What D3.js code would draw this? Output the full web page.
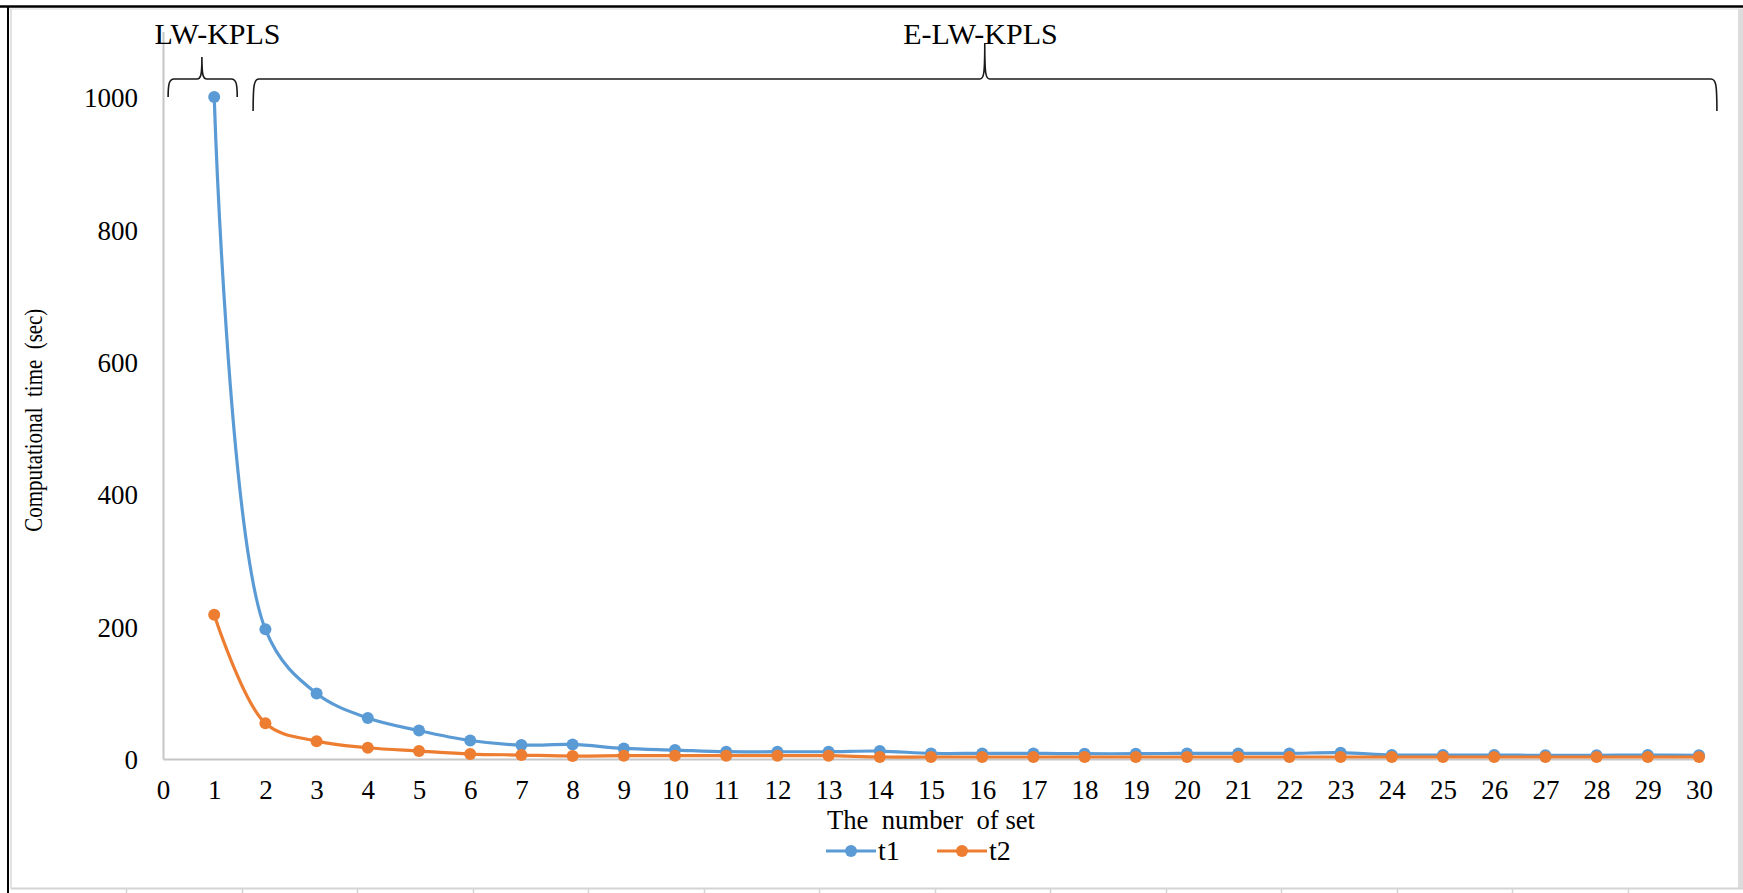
<!DOCTYPE html>
<html>
<head>
<meta charset="utf-8">
<script src="https://cdn.jsdelivr.net/npm/d3@7"></script>
<style>
  html, body { margin: 0; padding: 0; background: #fff; }
  svg { display: block; }
  text { font-family: "Liberation Serif", "Times New Roman", serif; fill: #000; }
</style>
</head>
<body>
<svg id="chart" width="1743" height="893"></svg>
<script>
// Number of sets (x) and computational time in seconds (y)
const sets = [1, 2, 3, 4, 5, 6, 7, 8, 9, 10, 11, 12, 13, 14, 15,
              16, 17, 18, 19, 20, 21, 22, 23, 24, 25, 26, 27, 28, 29, 30];
const t1 = [1001, 196, 99, 62, 43, 28, 21, 22, 16, 13.5, 11, 11, 11, 12, 8.5,
            8.5, 8.5, 8, 8, 8.5, 8.5, 8.5, 9.5, 6, 6, 6, 5.5, 5.5, 6, 5.5];
const t2 = [218, 54, 27, 17, 12, 7.5, 6, 4.5, 5, 5, 5, 5, 5, 3, 3,
            3, 3, 3, 3, 3, 3, 3, 3, 3, 3, 3, 3, 3, 3, 3];
const seriesNames = ["t1", "t2"];
const xTicks = [0, 1, 2, 3, 4, 5, 6, 7, 8, 9, 10, 11, 12, 13, 14, 15,
                16, 17, 18, 19, 20, 21, 22, 23, 24, 25, 26, 27, 28, 29, 30];
const yTicks = [0, 200, 400, 600, 800, 1000];
// Method groups shown as braces over the set axis: [label, from, to, middle]
const groups = [
  ["LW-KPLS", 0.1, 1.45, 0.76],
  ["E-LW-KPLS", 1.76, 30.35, 16.05]
];

const serif = '"Liberation Serif", "Times New Roman", serif';
const colors = ["#5B9BD5", "#ED7D31"];
const W = 1743, H = 893;
const svg = d3.select("#chart");

// Spreadsheet frame around the chart object
const frame = svg.append("g");
frame.append("line").attr("x1", 0).attr("x2", W).attr("y1", 6.5).attr("y2", 6.5)
  .attr("stroke", "#000").attr("stroke-width", 2.5);
frame.append("line").attr("x1", 9).attr("x2", W).attr("y1", 9).attr("y2", 9)
  .attr("stroke", "#e4e4e4").attr("stroke-width", 1.5);
frame.append("line").attr("x1", 8).attr("x2", 8).attr("y1", 6).attr("y2", H)
  .attr("stroke", "#000").attr("stroke-width", 2);
frame.append("line").attr("x1", 11).attr("x2", 11).attr("y1", 9).attr("y2", 889)
  .attr("stroke", "#d9d9d9").attr("stroke-width", 1.5);
frame.append("rect").attr("x", 1738).attr("y", 9).attr("width", 5).attr("height", 880)
  .attr("fill", "#dcdcdc");
frame.append("line").attr("x1", 11).attr("x2", W).attr("y1", 888.5).attr("y2", 888.5)
  .attr("stroke", "#d4d4d4").attr("stroke-width", 2);
for (let cx = 126; cx < W; cx += 115.5) {
  frame.append("line").attr("x1", Math.round(cx) + 0.5).attr("x2", Math.round(cx) + 0.5)
    .attr("y1", 889).attr("y2", H).attr("stroke", "#d4d4d4").attr("stroke-width", 1.5);
}

// Scales
const x = d3.scaleLinear().domain([0, 30]).range([163, 1699]);
const y = d3.scaleLinear().domain([0, 1100]).range([759, 31.4]);

// Axes
const axisColor = "#c6c6c6";
const gx = svg.append("g").attr("transform", `translate(0,${y(0)})`)
  .call(d3.axisBottom(x).tickValues(xTicks).tickSize(0).tickFormat(d3.format("d")));
gx.select(".domain").attr("stroke", axisColor).attr("stroke-width", 2);
gx.selectAll("text").attr("y", 31).attr("dy", "0.35em")
  .style("font-size", "27px").style("font-family", serif).attr("fill", "#000");

const gy = svg.append("g").attr("transform", `translate(${x(0)},0)`)
  .call(d3.axisLeft(y).tickValues(yTicks).tickSize(0).tickPadding(25).tickFormat(d3.format("d")));
gy.select(".domain").attr("stroke", axisColor).attr("stroke-width", 2);
gy.selectAll("text").attr("dy", "0.35em")
  .style("font-size", "27px").style("font-family", serif).attr("fill", "#000");

// Axis titles
svg.append("text")
  .attr("transform", `translate(42,${(y(0) + y(1100)) / 2 + 25}) rotate(-90)`)
  .attr("text-anchor", "middle").style("font-size", "26px").style("font-family", serif)
  .attr("textLength", 223).attr("lengthAdjust", "spacingAndGlyphs")
  .attr("xml:space", "preserve")
  .text("Computational  time  (sec)");

svg.append("text")
  .attr("x", (x(0) + x(30)) / 2).attr("y", 829)
  .attr("text-anchor", "middle").style("font-size", "27px").style("font-family", serif)
  .attr("textLength", 208).attr("lengthAdjust", "spacingAndGlyphs")
  .attr("xml:space", "preserve")
  .text("The  number  of set");

// Series lines and markers
const line = d3.line()
  .x((d, i) => x(sets[i]))
  .y(d => y(d))
  .curve(d3.curveCatmullRom.alpha(0.5));

[t1, t2].forEach((vals, k) => {
  const g = svg.append("g");
  g.append("path").datum(vals).attr("d", line)
    .attr("fill", "none").attr("stroke", colors[k]).attr("stroke-width", 3.2)
    .attr("stroke-linejoin", "round").attr("stroke-linecap", "round");
  g.selectAll("circle").data(vals).join("circle")
    .attr("cx", (d, i) => x(sets[i])).attr("cy", d => y(d))
    .attr("r", 6).attr("fill", colors[k]);
});

// Group braces and labels
const yLine = 79;
groups.forEach(([label, from, to, mid], k) => {
  const x0 = x(from), x1 = x(to), xc = x(mid);
  const yEnd = k === 0 ? 97 : 111;
  const yTip = k === 0 ? 57 : 43;
  const p = d3.path();
  p.moveTo(x0, yEnd);
  p.bezierCurveTo(x0, yLine + 5, x0 + 1, yLine, x0 + 6, yLine);
  p.lineTo(xc - 5, yLine);
  p.bezierCurveTo(xc - 1, yLine, xc, yLine - 4, xc, yTip);
  p.bezierCurveTo(xc, yLine - 4, xc + 1, yLine, xc + 5, yLine);
  p.lineTo(x1 - 6, yLine);
  p.bezierCurveTo(x1 - 1, yLine, x1, yLine + 5, x1, yEnd);
  svg.append("path").attr("d", p.toString())
    .attr("fill", "none").attr("stroke", "#1a1a1a").attr("stroke-width", 1.6);
  svg.append("text")
    .attr("x", k === 0 ? 217.5 : 980.5).attr("y", 44)
    .attr("text-anchor", "middle").style("font-size", "30px").style("font-family", serif)
    .text(label);
});

// Legend
const legend = svg.append("g");
const legendItems = [{ x0: 826, name: seriesNames[0] }, { x0: 937, name: seriesNames[1] }];
legendItems.forEach((it, k) => {
  const ly = 851;
  legend.append("line").attr("x1", it.x0).attr("x2", it.x0 + 50)
    .attr("y1", ly).attr("y2", ly).attr("stroke", colors[k]).attr("stroke-width", 3.2);
  legend.append("circle").attr("cx", it.x0 + 25).attr("cy", ly).attr("r", 6).attr("fill", colors[k]);
  legend.append("text").attr("x", it.x0 + 52).attr("y", ly + 9)
    .style("font-size", "28px").style("font-family", serif).text(it.name);
});
</script>
</body>
</html>
